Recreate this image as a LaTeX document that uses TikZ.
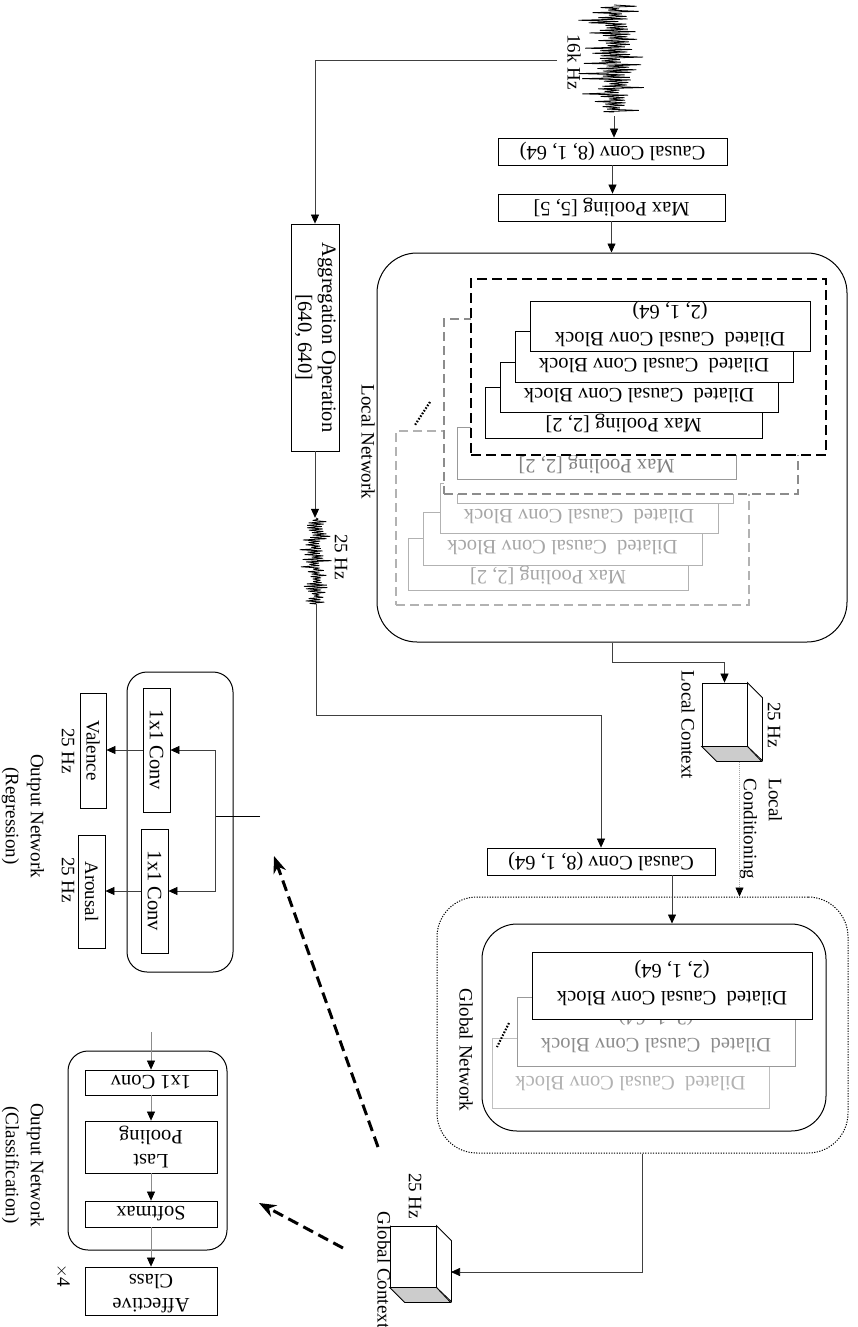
\documentclass[tikz,border=0pt]{standalone}
\usepackage{fontspec}
\setmainfont{Liberation Serif}
\usetikzlibrary{arrows.meta,calc}
\newcommand{\flipped}[1]{\rotatebox{180}{#1}}
\newcommand{\turned}[1]{\rotatebox{-90}{#1}}
\newcommand{\twolines}[2]{\begin{tabular}{@{}c@{}}#1\\\relax #2\end{tabular}}
\begin{document}
\begin{tikzpicture}[x=1pt,y=-1pt,
  box/.style={draw=black, fill=white, line width=0.8pt, inner sep=0pt, rectangle,
    font=\fontsize{20.5}{24}\selectfont},
  tx/.style={font=\fontsize{20.5}{27}\selectfont, inner sep=0pt, align=center},
  lb/.style={font=\fontsize{19}{25}\selectfont, inner sep=0pt},
  conn/.style={draw=black!75, line width=0.7pt},
  arr/.style={conn, -{Triangle[length=9pt,width=8pt,color=black]}},
  dashrect/.style={fill=white, dash pattern=on 9pt off 5pt, line width=1.2pt, inner sep=0pt},
  rbox/.style={draw, line width=1pt, inner sep=0pt},
  bigdash/.style={line width=3pt, dash pattern=on 11pt off 6pt, -{Stealth[length=17pt,width=13pt]}},
  wave/.style={line width=0.8pt, black, line join=bevel},
  dots/.style={line width=2.2pt, dash pattern=on 1.6pt off 1.6pt}
]
\useasboundingbox (0,0) rectangle (858,1327);

% ---------- input signal and front end ----------
\node[inner sep=0pt, minimum width=72, minimum height=112] (wave16) at (614,60) {};
\pgfmathsetseed{12}
\draw[wave] (614,5) \foreach \i in {1,...,84}{ -- ({614+(2*mod(\i,2)-1)*(4+rnd*(10+24*rnd))},{5+\i*1.27}) } -- (614,112);
\node[lb, rotate=-90] (t16) at (574,62) {16k Hz};
\coordinate (wsplit) at (557,60);

\node[box, minimum width=229, minimum height=27] (cc1) at (612.5,151.5) {\flipped{Causal Conv (8, 1, 64)}};
\node[box, minimum width=227, minimum height=27] (mp5) at (611.5,207.5) {\flipped{Max Pooling [5, 5]}};

% ---------- local network ----------
\node[rbox, rounded corners=40pt, minimum width=470, minimum height=389] (loc) at (612,447.5) {};
\node[lb, rotate=-90] (tloc) at (368,442) {Local Network};

\draw[arr] (wave16.south) -- (wave16.south |- cc1.north);
\draw[arr] (cc1.south) -- (cc1.south |- mp5.north);
\draw[arr] (mp5.south) -- (mp5.south |- loc.north);

% third (faded) stage
\node[dashrect, draw=black!30, minimum width=353, minimum height=174] (g3) at (572.5,518) {};
\node[box, draw=black!30, minimum width=280, minimum height=52] (g3d) at (548,564) {};
\node[tx, text=black!35, rotate=180] (g3dt) at (548,575) {Max Pooling [2, 2]};
\node[box, draw=black!30, minimum width=279, minimum height=53] (g3c) at (562.5,538.5) {};
\node[tx, text=black!35, rotate=180] (g3ct) at (562.5,548) {Dilated\ \ Causal Conv Block};
\node[box, draw=black!30, minimum width=278, minimum height=50] (g3b) at (579,508) {};
\node[tx, text=black!35, rotate=180] (g3bt) at (579,517) {Dilated\ \ Causal Conv Block};
\node[box, draw=black!30, minimum width=276, minimum height=50] (g3a) at (595,478) {};

% second (grey) stage
\node[dashrect, draw=black!45, minimum width=354, minimum height=175] (g2) at (621,406.5) {};
\node[box, draw=black!40, minimum width=279, minimum height=52] (g2mp) at (596.5,453) {};
\node[tx, text=black!50, rotate=180] (g2mpt) at (596.5,464) {Max Pooling [2, 2]};

% first stage
\node[dashrect, draw=black, line width=1.4pt, dash pattern=on 10pt off 5pt, minimum width=355, minimum height=176] (g1) at (648.5,367) {};
\node[box, minimum width=277, minimum height=51] (b4) at (623.5,412.5) {};
\node[tx, rotate=180] (b4t) at (623.5,423) {Max Pooling [2, 2]};
\node[box, minimum width=278, minimum height=50] (b3) at (639,387) {};
\node[tx, rotate=180] (b3t) at (639,396) {Dilated\ \ Causal Conv Block};
\node[box, minimum width=278, minimum height=51] (b2) at (654,356.5) {};
\node[tx, rotate=180] (b2t) at (654,366) {Dilated\ \ Causal Conv Block};
\node[box, minimum width=280, minimum height=50] (b1) at (670,326) {};
\node[tx, rotate=180] (b1t) at (670,324) {Dilated\ \ Causal Conv Block\\(2, 1, 64)};

\coordinate (ld1) at (430,402);
\coordinate (ld2) at (415,425);
\draw[dots] (ld1) -- (ld2);

% ---------- local context ----------
\node[box, minimum width=45, minimum height=63] (lcube) at (724.5,714.5) {};
\draw[line width=0.8pt, fill=white] (lcube.north east) -- ++(15,15) -- ++(0,63) -- (lcube.south east) -- cycle;
\draw[line width=0.8pt, fill=black!20] (lcube.south west) -- ++(15,15) -- ++(45,0) -- (lcube.south east) -- cycle;
\draw[arr] (loc.south) -- ++(0,20) -| (lcube.north);
\node[lb, rotate=-90] (tlc) at (688,725) {Local Context};
\node[lb, rotate=-90] (tlh) at (774,725) {25 Hz};
\node[lb, rotate=-90, align=left] (tcond) at (761,829) {Local\\Conditioning};

% ---------- aggregation branch ----------
\node[box, minimum width=48, minimum height=227] (agg) at (315,337.5) {\turned{\twolines{Aggregation Operation}{[640, 640]}}};
\draw[arr] (wsplit) -| (agg.north);
\node[inner sep=0pt, minimum width=32, minimum height=86] (wave25) at (316,561) {};
\pgfmathsetseed{5}
\draw[wave] (316,518) \foreach \i in {1,...,70}{ -- ({316+(2*mod(\i,2)-1)*(2+rnd*(5+11*rnd))},{518+\i*1.22}) } -- (316,604);
\draw[arr] (agg.south) -- (agg.south |- wave25.north);
\node[lb, rotate=-90] (t25a) at (341,557) {25 Hz};

% ---------- global network ----------
\node[box, minimum width=228, minimum height=27] (cc2) at (601,861.5) {\flipped{Causal Conv (8, 1, 64)}};
\coordinate (j25) at (316,715);
\draw[arr] (wave25.south) -- (j25) -| (cc2.north);

\node[draw, line width=1pt, dash pattern=on 1.2pt off 1.4pt, rounded corners=40pt, inner sep=0pt, minimum width=411, minimum height=256] (gdot) at (642.5,1025) {};
\node[rbox, rounded corners=35pt, minimum width=344, minimum height=207] (gin) at (654,1027.5) {};
\node[lb, rotate=-90] (tgn) at (466,1050) {Global Network};

\node[box, draw=black!25, minimum width=277, minimum height=70] (gl3) at (630.5,1073) {};
\node[tx, text=black!30, rotate=180] (gl3t) at (630.5,1083) {Dilated\ \ Causal Conv Block};
\node[box, draw=black!40, minimum width=278, minimum height=69] (gl2) at (656,1031.5) {};
\node[tx, text=black!45, rotate=180] (gl2t) at (656,1030) {Dilated\ \ Causal Conv Block\\(2, 1, 64)};
\node[box, minimum width=280, minimum height=67] (gl1) at (672,985.5) {};
\node[tx, rotate=180] (gl1t) at (672,983) {Dilated\ \ Causal Conv Block\\(2, 1, 64)};
\coordinate (gd1) at (509,1023);
\coordinate (gd2) at (497,1047);
\draw[dots] (gd1) -- (gd2);

\coordinate (cc2out) at (672,875);
\draw[arr] (cc2out) -- (cc2out |- gin.north);
\coordinate (lcb) at (739.5,761.5);
\draw[arr, draw=black!35, dash pattern=on 1pt off 1pt] (lcb) -- (lcb |- gdot.north);

% ---------- global context ----------
\node[box, minimum width=46, minimum height=61] (gcube) at (413,1256.5) {};
\draw[line width=0.8pt, fill=white] (gcube.north east) -- ++(15,15) -- ++(0,61) -- (gcube.south east) -- cycle;
\draw[line width=0.8pt, fill=black!20] (gcube.south west) -- ++(15,15) -- ++(46,0) -- (gcube.south east) -- cycle;
\coordinate (gcin) at (451,1272);
\draw[arr] (gdot.south) |- (gcin);
\node[lb, rotate=-90] (tgh) at (415,1196) {25 Hz};
\node[lb, rotate=-90] (tgc) at (384,1270) {Global Context};

% ---------- heads ----------
\coordinate (d1s) at (378,1147);
\coordinate (d1e) at (274,856);
\draw[bigdash] (d1s) -- (d1e);
\coordinate (d2s) at (343,1248);
\coordinate (d2e) at (259,1203);
\draw[bigdash] (d2s) -- (d2e);

% regression head
\node[rbox, rounded corners=20pt, minimum width=106, minimum height=300] (oreg) at (180,822) {};
\node[box, minimum width=27, minimum height=124] (cv1) at (156.5,750) {\turned{1x1 Conv}};
\node[box, minimum width=27, minimum height=124] (cv2) at (154.5,891) {\turned{1x1 Conv}};
\coordinate (regin) at (260,816);
\coordinate (rj) at (215,816);
\draw[line width=1pt] (regin) -- (rj);
\draw[arr] (rj) |- (cv1.east);
\draw[arr] (rj) |- (cv2.east);
\node[box, font=\fontsize{19}{24}\selectfont, minimum width=26, minimum height=115] (val) at (93,750.5) {\turned{Valence}};
\node[box, font=\fontsize{19}{24}\selectfont, minimum width=27, minimum height=113] (aro) at (91.5,891.5) {\turned{Arousal}};
\draw[arr] (cv1.west) -- (cv1.west -| val.east);
\draw[arr] (cv2.west) -- (cv2.west -| aro.east);
\node[lb, rotate=-90] (tvh) at (68,751) {25 Hz};
\node[lb, rotate=-90] (tah) at (68,880) {25 Hz};
\node[lb, rotate=-90, align=center] (treg) at (23,816) {Output Network\\(Regression)};

% classification head
\node[rbox, rounded corners=20pt, minimum width=159, minimum height=199] (ocls) at (147.5,1150.5) {};
\coordinate (clin) at (151,1032);
\node[box, minimum width=132, minimum height=25] (k1) at (151,1082.5) {\flipped{1x1 Conv}};
\node[box, minimum width=132, minimum height=52] (k2) at (151,1147) {\flipped{\twolines{Last}{Pooling}}};
\node[box, minimum width=132, minimum height=26] (k3) at (151,1214) {\flipped{Softmax}};
\node[box, minimum width=132, minimum height=48] (k4) at (151,1291) {\flipped{\twolines{Affective}{Class}}};
\draw[arr, draw=black!45] (clin) -- (k1.north);
\draw[arr, draw=black!45] (k1.south) -- (k2.north);
\draw[arr, draw=black!45] (k2.south) -- (k3.north);
\draw[arr, draw=black!45] (k3.south) -- (k4.north);
\node[lb, rotate=-90] (tx4) at (63,1276) {$\times$4};
\node[lb, rotate=-90, align=center] (tcls) at (23,1165) {Output Network\\(Classification)};
\end{tikzpicture}
\end{document}
